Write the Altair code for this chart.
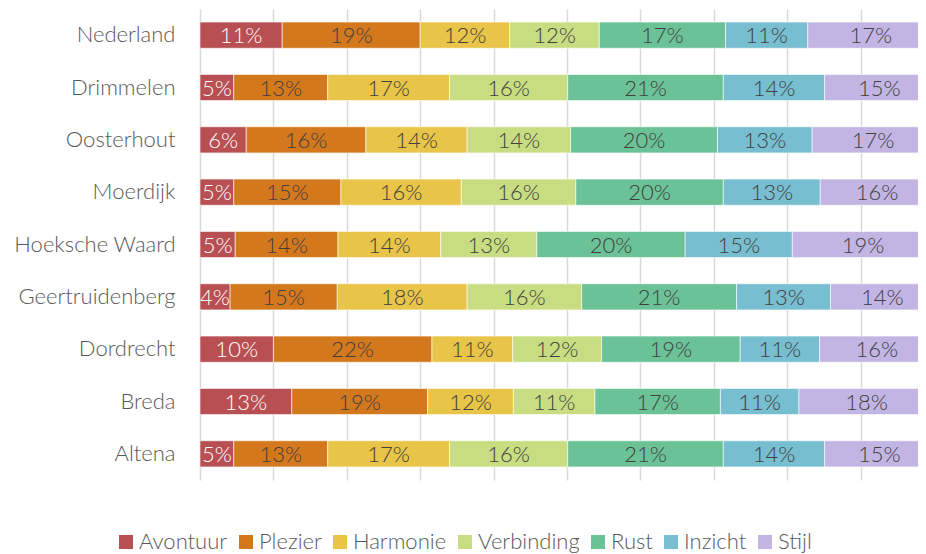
import altair as alt
import pandas as pd

categories = ["Nederland", "Drimmelen", "Oosterhout", "Moerdijk", "Hoeksche Waard",
              "Geertruidenberg", "Dordrecht", "Breda", "Altena"]
series = ["Avontuur", "Plezier", "Harmonie", "Verbinding", "Rust", "Inzicht", "Stijl"]
colors = ["#b84f52", "#d4781d", "#e8c448", "#c8dd81", "#6cc297", "#77bed0", "#c2b5e3"]

avontuur = [11.2, 4.6, 6.3, 4.6, 4.8, 4.1, 10.0, 12.5, 4.6]
plezier = [18.8, 12.8, 16.3, 14.6, 14.0, 14.6, 21.6, 18.5, 12.8]
harmonie = [12.2, 16.6, 13.8, 16.4, 14.0, 17.7, 11.0, 11.7, 16.6]
verbinding = [12.2, 16.1, 14.1, 15.6, 13.1, 15.6, 12.1, 11.1, 16.1]
rust = [17.2, 21.2, 20.0, 20.1, 20.2, 21.1, 18.9, 17.1, 21.2]
inzicht = [11.2, 13.8, 12.9, 13.2, 14.6, 12.8, 10.8, 10.7, 13.8]
stijl = [17.2, 14.9, 16.6, 15.5, 19.3, 14.1, 15.6, 18.4, 14.9]

values = [avontuur, plezier, harmonie, verbinding, rust, inzicht, stijl]

rows = []
for i, cat in enumerate(categories):
    total = sum(v[i] for v in values)
    cum = 0.0
    for s, name in enumerate(series):
        v = values[s][i]
        start = cum / total
        cum += v
        end = cum / total
        rows.append({
            "cat": cat, "series": name, "order": s,
            "start": start, "end": end, "mid": (start + end) / 2,
            "label": f"{int(v + 0.5)}%",
            "white": name == "Avontuur",
        })
df = pd.DataFrame(rows)

FONT = "Lato"
x_max = 718 / 734

x_enc = alt.X("start:Q", scale=alt.Scale(domain=[0, x_max], nice=False, zero=True),
              axis=alt.Axis(values=[0, 0.1, 0.2, 0.3, 0.4, 0.5, 0.6, 0.7, 0.8, 0.9],
                            labels=False, ticks=False, domain=False, title=None,
                            grid=True, gridColor="#d9d9d9", gridWidth=1.5))
y_enc = alt.Y("cat:N", sort=categories,
              scale=alt.Scale(paddingInner=0.5, paddingOuter=0.25),
              axis=alt.Axis(title=None, domain=False, ticks=False, labelPadding=25,
                            labelFontSize=22, labelColor="#595959", labelFont=FONT,
                            labelFontWeight=300))

bars = alt.Chart(df).mark_bar(clip=True, stroke="#ffffff", strokeWidth=0.6).encode(
    x=x_enc,
    x2="end:Q",
    y=y_enc,
    color=alt.Color("series:N", sort=series,
                    scale=alt.Scale(domain=series, range=colors),
                    legend=alt.Legend(title=None, orient="none", direction="horizontal",
                                      legendX=-85, legendY=522, columns=7,
                                      symbolType="square", symbolSize=196,
                                      symbolStrokeWidth=0, labelFontSize=22,
                                      labelFont=FONT, labelFontWeight=300,
                                      labelColor="#595959", labelOffset=2,
                                      columnPadding=7, padding=0)),
    order=alt.Order("order:Q"),
)

texts = alt.Chart(df).mark_text(fontSize=22, font=FONT, fontWeight=300,
                                baseline="middle", dy=1).encode(
    x=alt.X("mid:Q"),
    y=alt.Y("cat:N", sort=categories),
    text="label:N",
    color=alt.condition("datum.white", alt.value("#ffffff"), alt.value("#404040")),
)

chart = alt.layer(bars, texts).properties(
    width=718, height=471,
    autosize=alt.AutoSizeParams(type="none"),
    padding={"left": 192, "top": 1, "right": 0, "bottom": 74},
).configure_view(stroke=None)

chart.save("out.html", embed_options={"renderer": "svg", "actions": False})
